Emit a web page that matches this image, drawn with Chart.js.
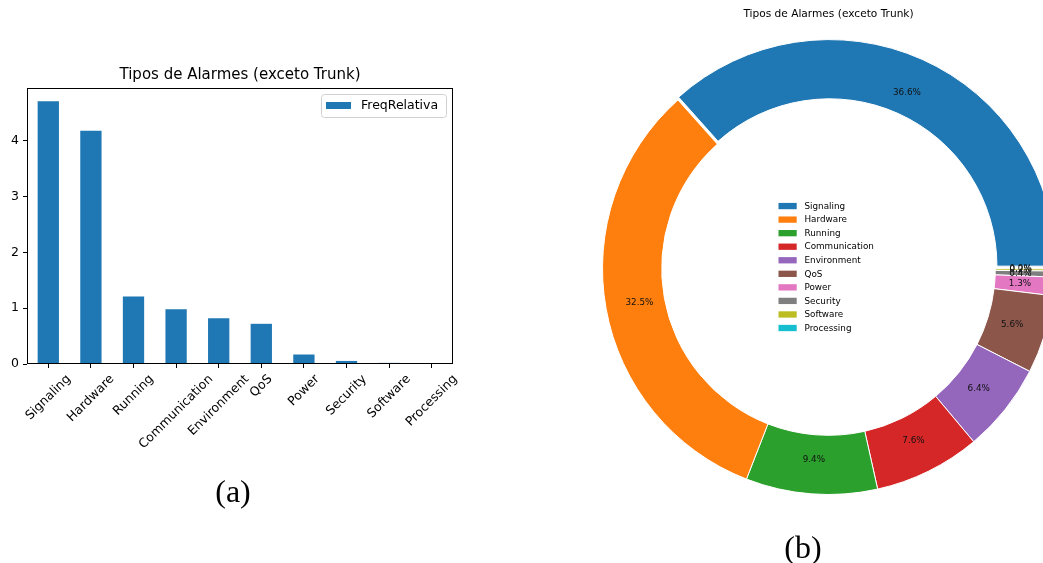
<!DOCTYPE html>
<html>
<head>
<meta charset="utf-8">
<title>Tipos de Alarmes (exceto Trunk)</title>
<script src="https://cdn.jsdelivr.net/npm/chart.js@4.4.0/dist/chart.umd.min.js"></script>
<style>
    html, body { margin: 0; padding: 0; background: #ffffff; }
    body { width: 1043px; height: 563px; position: relative; overflow: hidden; }
    #barBox { position: absolute; left: 0; top: 0; width: 470px; height: 480px; }
    #pieBox { position: absolute; left: 560px; top: 0; width: 537px; height: 563px; }
    .caption {
        position: absolute;
        font-family: "Liberation Serif", "DejaVu Serif", serif;
        font-size: 32px;
        color: #000;
        transform: translate(-50%, -50%);
        white-space: nowrap;
    }
</style>
</head>
<body>
<div id="barBox"><canvas id="barChart"></canvas></div>
<div id="pieBox"><canvas id="pieChart"></canvas></div>
<div class="caption" style="left:233px; top:491px;">(a)</div>
<div class="caption" style="left:803px; top:547px;">(b)</div>

<script>
// ---- data ----
const categories = ['Signaling', 'Hardware', 'Running', 'Communication', 'Environment',
                    'QoS', 'Power', 'Security', 'Software', 'Processing'];
const freqRelativa = [4.71, 4.18, 1.21, 0.98, 0.82, 0.72, 0.17, 0.055, 0.02, 0.003];
const yTicks = [0, 1, 2, 3, 4];
const palette = ['#1f77b4', '#ff7f0e', '#2ca02c', '#d62728', '#9467bd',
                 '#8c564b', '#e377c2', '#7f7f7f', '#bcbd22', '#17becf'];
const chartTitle = 'Tipos de Alarmes (exceto Trunk)';
const seriesName = 'FreqRelativa';

const FONT = '"DejaVu Sans", Verdana, sans-serif';

// ---- bar chart: title, frame, rotated labels and legend box ----
const barDecor = {
    id: 'barDecor',
    afterDraw(chart) {
        const ctx = chart.ctx;
        const area = chart.chartArea;
        const xScale = chart.scales.x;
        ctx.save();

        // title centred over the axes
        ctx.font = '15px ' + FONT;
        ctx.fillStyle = '#000';
        ctx.textAlign = 'center';
        ctx.textBaseline = 'middle';
        ctx.fillText(chartTitle, (area.left + area.right) / 2, 75);

        // axes frame
        ctx.strokeStyle = '#000';
        ctx.lineWidth = 1;
        ctx.strokeRect(Math.round(area.left) + 0.5, Math.round(area.top) + 0.5,
                       Math.round(area.right - area.left) - 1, Math.round(area.bottom - area.top) - 1);

        // category labels rotated 45deg, centred under each tick
        ctx.font = '12.5px ' + FONT;
        const s = Math.SQRT1_2;
        categories.forEach(function(label, i) {
            const x = xScale.getPixelForValue(i);
            const w = ctx.measureText(label).width;
            const h = 14.5;
            const top = area.bottom + 8;
            const cy = top + (w + h) * s / 2;
            ctx.save();
            ctx.translate(x, cy);
            ctx.rotate(-Math.PI / 4);
            ctx.fillText(label, 0, 0);
            ctx.restore();
        });

        // legend
        ctx.fillStyle = 'rgba(255,255,255,0.8)';
        ctx.strokeStyle = '#d0d0d0';
        ctx.beginPath();
        ctx.roundRect(321.5, 94.5, 125, 23, 3);
        ctx.fill();
        ctx.stroke();
        ctx.fillStyle = palette[0];
        ctx.fillRect(326, 102, 25, 7);
        ctx.fillStyle = '#000';
        ctx.textAlign = 'left';
        ctx.fillText(seriesName, 361, 106);
        ctx.restore();
    }
};

const yMax = Math.max.apply(null, freqRelativa) * 1.05;

new Chart(document.getElementById('barChart'), {
    type: 'bar',
    data: {
        labels: categories,
        datasets: [{
            label: seriesName,
            data: freqRelativa,
            backgroundColor: palette[0],
            borderWidth: 0,
            barPercentage: 0.5,
            categoryPercentage: 1.0
        }]
    },
    options: {
        responsive: true,
        maintainAspectRatio: false,
        animation: false,
        layout: { padding: { left: 0, right: 17, top: 88, bottom: 0 } },
        plugins: {
            legend: { display: false },
            tooltip: { enabled: false },
            title: { display: false }
        },
        scales: {
            x: {
                grid: { display: true, offset: false, drawOnChartArea: false, drawTicks: true,
                        tickLength: 4, color: '#000', lineWidth: 1 },
                border: { display: false },
                ticks: { display: false },
                afterFit: function(scale) { scale.height = 116; }
            },
            y: {
                min: 0,
                max: yMax,
                afterBuildTicks: function(scale) {
                    scale.ticks = yTicks.map(function(v) { return { value: v }; });
                },
                grid: { display: true, drawOnChartArea: false, drawTicks: true,
                        tickLength: 4, color: '#000', lineWidth: 1 },
                border: { display: false },
                ticks: { color: '#000', font: { family: FONT, size: 12.5 }, padding: 4 },
                afterFit: function(scale) { scale.width = 27; }
            }
        }
    },
    plugins: [barDecor]
});

// ---- doughnut chart ----
// matplotlib draws counter-clockwise from 3 o'clock; Chart.js goes clockwise,
// so feed the slices in reverse order and start at 90deg.
const pieValues = freqRelativa.slice().reverse();
const pieColors = palette.slice().reverse();
const pieOffsets = categories.map(function(c) { return c === 'Signaling' ? 10 : 0; }).reverse();
const pieRadius = 226;

const pieDecor = {
    id: 'pieDecor',
    afterDatasetsDraw(chart) {
        const ctx = chart.ctx;
        const meta = chart.getDatasetMeta(0);
        const total = pieValues.reduce(function(a, b) { return a + b; }, 0);
        const cx = (chart.chartArea.left + chart.chartArea.right) / 2;
        const cy = (chart.chartArea.top + chart.chartArea.bottom) / 2;
        ctx.save();

        // percentage labels at 0.85 of the radius
        ctx.font = '8.8px ' + FONT;
        ctx.fillStyle = '#111';
        ctx.textAlign = 'center';
        ctx.textBaseline = 'middle';
        meta.data.forEach(function(arc, i) {
            const p = arc.getProps(['startAngle', 'endAngle'], true);
            const mid = (p.startAngle + p.endAngle) / 2;
            const r = 0.85 * pieRadius;
            const pct = (pieValues[i] / total * 100).toFixed(1) + '%';
            ctx.fillText(pct, cx + Math.cos(mid) * r, cy + Math.sin(mid) * r);
        });

        // legend in the hole, original category order
        ctx.textAlign = 'left';
        categories.forEach(function(label, i) {
            const rowY = cy - 62.5 + i * 13.55;
            ctx.fillStyle = palette[i];
            ctx.fillRect(cx - 50, rowY - 3.1, 18.2, 6.3);
            ctx.fillStyle = '#000';
            ctx.fillText(label, cx - 24, rowY + 0.5);
        });
        ctx.restore();
    }
};

new Chart(document.getElementById('pieChart'), {
    type: 'doughnut',
    data: {
        labels: categories.slice().reverse(),
        datasets: [{
            data: pieValues,
            backgroundColor: pieColors,
            borderColor: '#ffffff',
            borderWidth: 1,
            offset: pieOffsets
        }]
    },
    options: {
        responsive: true,
        maintainAspectRatio: false,
        animation: false,
        rotation: 90,
        radius: pieRadius,
        cutout: '73.8%',
        layout: { padding: { left: 0, right: 0, top: 0, bottom: 46.7 } },
        plugins: {
            legend: { display: false },
            tooltip: { enabled: false },
            title: {
                display: true,
                text: chartTitle,
                color: '#000',
                font: { family: FONT, size: 10.6, weight: 'normal' },
                padding: { top: 8, bottom: 0 }
            }
        }
    },
    plugins: [pieDecor]
});
</script>
</body>
</html>
